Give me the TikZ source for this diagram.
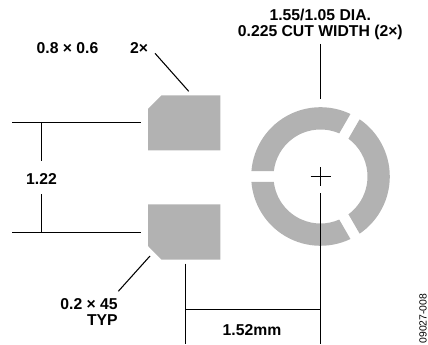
\documentclass[tikz,border=0pt]{standalone}
\usepackage{fontspec}
\setmainfont{Liberation Sans}
\definecolor{padgray}{RGB}{178,178,178}
\tikzset{
    padfill/.style={fill=padgray,draw=none},
    dimline/.style={draw=black,line width=0.8pt},
    dimtext/.style={font=\bfseries\fontsize{11.8}{12}\selectfont,inner sep=0pt,align=center},
}
\begin{document}
\begin{tikzpicture}[x=0.75pt,y=0.75pt]
    \useasboundingbox (0,0) rectangle (428,345);
    % pads
    \fill[padfill] (148,194.7) -- (148,236) -- (161.5,249.7) -- (220.3,249.7) -- (220.3,194.7) -- cycle;
    \fill[padfill] (148,140.7) -- (148,99) -- (161.5,85.3) -- (220.3,85.3) -- (220.3,140.7) -- cycle;
    % ring
    \coordinate (C) at (320.5,168.5);
    \fill[padfill] ([shift={(175.6:69.3)}]C) arc (175.6:64.4:69.3) -- ([shift={(66.5:47)}]C) arc (66.5:173.5:47) -- cycle;
    \fill[padfill] ([shift={(55.6:69.3)}]C) arc (55.6:-55.6:69.3) -- ([shift={(-53.5:47)}]C) arc (-53.5:53.5:47) -- cycle;
    \fill[padfill] ([shift={(-64.4:69.3)}]C) arc (-64.4:-175.6:69.3) -- ([shift={(-173.5:47)}]C) arc (-173.5:-66.5:47) -- cycle;
    % pad spacing
    \coordinate (T1) at (12,222.5);
    \coordinate (T2) at (141,222.5);
    \coordinate (T3) at (41.5,222.5);
    \coordinate (T4) at (41.5,184);
    \coordinate (B1) at (12,112.5);
    \coordinate (B2) at (141,112.5);
    \coordinate (B3) at (41.5,112.5);
    \coordinate (B4) at (41.5,151);
    \node[dimtext] (gap) at (41.5,166) {1.22};
    \draw[dimline] (T1) -- (T2);
    \draw[dimline] (B1) -- (B2);
    \draw[dimline] (T3) -- (T4);
    \draw[dimline] (B3) -- (B4);
    % pad labels
    \node[dimtext] (size) at (67.5,297) {0.8 × 0.6};
    \node[dimtext] (count) at (139,297) {2×};
    \coordinate (L1) at (155,291.7);
    \coordinate (L2) at (188.7,253.7);
    \draw[dimline] (L1) -- (L2);
    \node[dimtext,align=right,anchor=north east] (cham) at (118,47) {0.2 × 45\\TYP};
    \coordinate (L3) at (150,89);
    \coordinate (L4) at (118.3,53.7);
    \draw[dimline] (L3) -- (L4);
    % ring label
    \node[dimtext] (dia) at (320.3,321) {1.55/1.05 DIA.\\0.225 CUT WIDTH (2×)};
    \coordinate (V1) at (320.5,301);
    \coordinate (V2) at (320.5,245.7);
    \draw[dimline] (V1) -- (V2);
    % centre mark
    \coordinate (X1) at (310.5,168.5);
    \coordinate (X2) at (330.5,168.5);
    \coordinate (X3) at (320.5,177.7);
    \coordinate (X4) at (320.5,159);
    \draw[dimline] (X1) -- (X2);
    \draw[dimline] (X3) -- (X4);
    % pitch
    \coordinate (V3) at (320.5,151.7);
    \coordinate (V4) at (320.5,1.3);
    \coordinate (V5) at (185.5,81.3);
    \coordinate (V6) at (185.5,1.3);
    \coordinate (H1) at (185.5,35.5);
    \coordinate (H2) at (320.5,35.5);
    \draw[dimline] (V3) -- (V4);
    \draw[dimline] (V5) -- (V6);
    \draw[dimline] (H1) -- (H2);
    \node[dimtext] (pitch) at (252,15.3) {1.52mm};
    \node[rotate=90,font=\fontsize{7.8}{8}\selectfont,inner sep=0pt] (code) at (423,26.3) {09027-008};
\end{tikzpicture}
\end{document}
